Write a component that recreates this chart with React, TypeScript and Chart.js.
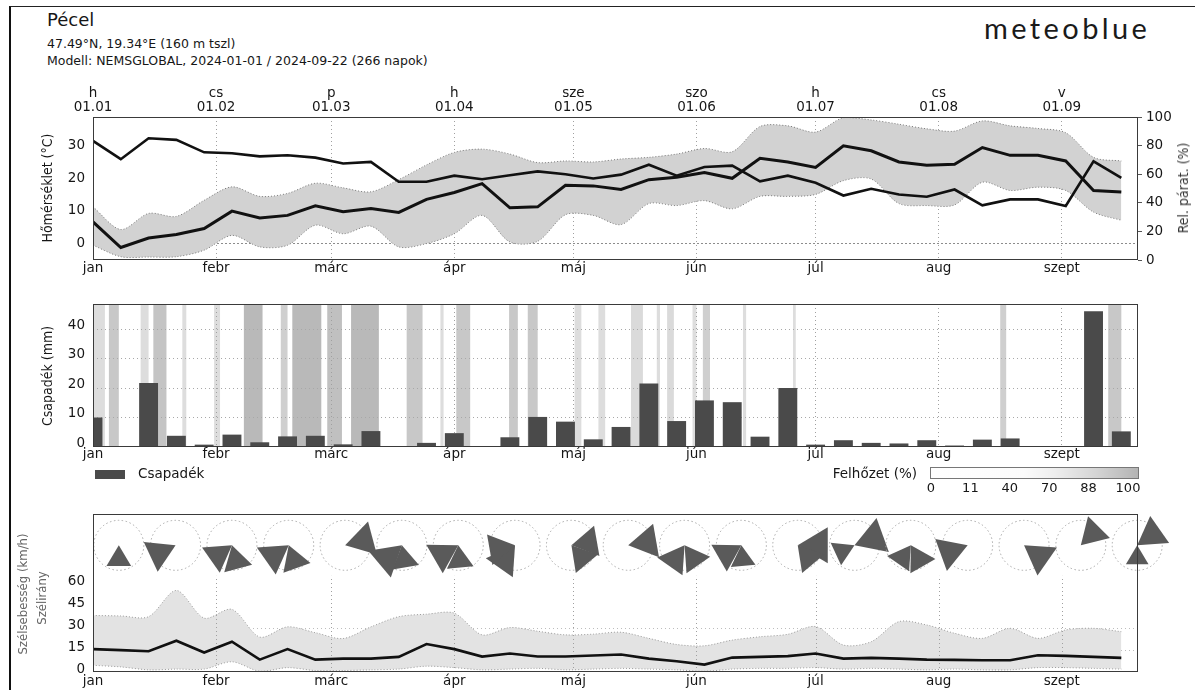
import React, { useEffect, useRef } from "react";
import { Chart, registerables } from "chart.js";

Chart.register(...registerables);

// ---------- layout constants ----------
const CANVAS_W = 1195;
const AREA_LEFT = 93;
const AREA_RIGHT = 1138;
const X_MIN = 0;
const X_MAX = 263.2;

// ---------- data ----------
const weekDays = [0, 7, 14, 21, 28, 35, 42, 49, 56, 63, 70, 77, 84, 91, 98, 105, 112, 119, 126, 133, 140, 147, 154, 161, 168, 175, 182, 189, 196, 203, 210, 217, 224, 231, 238, 245, 252, 259];

const monthDays = [0, 31, 60, 91, 121, 152, 182, 213, 244];
const monthNames = ["jan", "febr", "márc", "ápr", "máj", "jún", "júl", "aug", "szept"];
const dateLabels = ["01.01", "01.02", "01.03", "01.04", "01.05", "01.06", "01.07", "01.08", "01.09"];
const weekdayNames = ["h", "cs", "p", "h", "sze", "szo", "h", "cs", "v"];

const tempTicks = [0, 10, 20, 30];
const humTicks = [0, 20, 40, 60, 80, 100];
const precipTicks = [0, 10, 20, 30, 40];
const windTicks = [0, 15, 30, 45, 60];
const cloudLegendTicks = ["0", "11", "40", "70", "88", "100"];

const tempMean = [6.6, -1.2, 1.7, 2.8, 4.6, 9.9, 7.8, 8.6, 11.5, 9.7, 10.7, 9.5, 13.5, 15.6, 18.3, 10.9, 11.2, 17.8, 17.6, 16.5, 19.5, 20.2, 21.7, 19.9, 26.0, 24.9, 23.2, 29.8, 28.3, 24.9, 23.9, 24.2, 29.3, 26.9, 26.9, 25.2, 16.2, 15.7];
const tempMin = [-0.5, -4.0, -4.1, -4.0, -2.0, 2.5, -1.0, -0.5, 5.6, 3.0, 5.3, -1.0, 0.0, 3.0, 8.6, 0.5, 0.7, 8.8, 8.6, 5.8, 12.2, 11.6, 13.1, 10.6, 14.4, 14.4, 15.0, 19.2, 19.7, 12.2, 11.6, 11.8, 18.7, 16.2, 17.2, 16.2, 9.6, 7.1];
const tempMax = [11.2, 4.3, 9.2, 8.3, 13.2, 17.3, 14.4, 15.3, 18.4, 17.0, 15.8, 19.5, 24.0, 27.8, 28.8, 27.3, 24.7, 25.2, 24.9, 25.8, 26.3, 27.3, 29.0, 28.0, 35.7, 35.9, 34.0, 38.4, 37.7, 36.4, 35.0, 34.3, 37.4, 35.9, 35.1, 33.8, 26.3, 25.2];
const humidity = [83.3, 70.5, 85.1, 84.0, 75.3, 74.6, 72.5, 73.2, 71.6, 67.5, 68.6, 54.7, 54.7, 59, 56.5, 59.3, 62, 60, 57, 59.7, 66.6, 59, 65, 66, 55, 59, 54, 45.1, 49.8, 45.8, 44.2, 49.3, 38.2, 42.4, 42.4, 37.8, 69, 57.4];

const precip = [10, 0, 21.7, 3.8, 0.8, 4.2, 1.6, 3.6, 3.8, 0.9, 5.4, 0.2, 1.4, 4.7, 0, 3.3, 10.2, 8.6, 2.6, 6.8, 21.5, 8.8, 15.8, 15.2, 3.5, 20, 0.8, 2.3, 1.4, 1.2, 2.3, 0.5, 2.5, 2.9, 0.2, 0, 46, 5.3];

const cloudStart = [0, 4, 12, 15.2, 22.5, 30.5, 38, 47.3, 50.2, 59, 65, 79, 87.5, 91.5, 104.8, 109.5, 121.3, 127.3, 135.5, 142, 144.6, 151, 153.6, 163.7, 176.3, 228.5, 255.7];
const cloudEnd = [3, 6.5, 14, 18.5, 23.5, 32, 42.7, 49, 57.5, 62.7, 72, 83, 88.3, 95, 107, 112, 123, 129, 138.5, 142.8, 146.3, 152, 155.4, 164.5, 177, 230, 259];
const cloudCover = [40, 70, 40, 75, 40, 40, 90, 60, 90, 80, 90, 70, 40, 70, 70, 70, 40, 40, 45, 40, 45, 40, 60, 40, 40, 60, 70];

const windMean = [15.7, 15, 14.3, 21.5, 13.4, 20.8, 8.5, 15.7, 8.5, 9.2, 9.2, 10.4, 19.2, 15.7, 10.6, 12.7, 10.6, 10.6, 11.3, 12, 9.2, 7.4, 5.1, 9.9, 10.4, 10.9, 12.7, 9.2, 9.7, 9.2, 8.5, 8.3, 8.1, 8.1, 11.5, 11.1, 10.4, 9.7];
const windMax = [38.8, 38.5, 38, 56, 37, 43, 24, 31, 27, 23, 31, 38, 39.7, 40.4, 25.5, 30.5, 28, 25.5, 26, 27.3, 23.1, 18.9, 18, 21.9, 24.2, 25.9, 31.2, 18.5, 20.8, 34.6, 32.3, 26.6, 23.1, 30, 23.1, 28.9, 30, 27.7];
const windMin = [4.6, 3.5, 1.5, 2, 2, 7, 0.5, 3, 1, 1, 1.5, 2, 4, 3, 1.5, 2, 2.5, 1.5, 2, 2.5, 2, 1.5, 0.5, 2, 2.5, 2.5, 3, 2, 2.5, 2, 1.5, 2, 1.5, 1.5, 3, 3, 2.5, 2];

const roseDay = [6.5, 20.8, 35, 49.3, 63.5, 77.8, 92, 106.3, 120.5, 134.8, 149, 163.3, 177.5, 191.8, 206, 220.3, 234.5, 248.8, 263];
const roseDirA = [180, 245, 165, 160, 75, 170, 175, 215, 80, 80, 145, 175, 90, 70, 150, 250, 125, 45, 55];
const roseShareA = [24, 32, 28, 28, 33, 26, 26, 32, 30, 33, 28, 24, 35, 35, 28, 33, 33, 30, 32];
const roseDirB = [0, 0, 235, 235, 0, 230, 240, 260, 140, 0, 215, 240, 140, 245, 215, 0, 0, 0, 180];
const roseShareB = [0, 0, 30, 32, 0, 34, 32, 30, 28, 0, 30, 30, 28, 24, 26, 0, 0, 0, 22];
const ROSE_LEVEL = 87; // km/h-axis level where the roses sit
const ROSE_RADIUS = 25;
const ROSE_PX_PER_SHARE = 1;

// ---------- helpers ----------
const FAMILY = "DejaVu Sans";
const INK = "#161616";
const TICK_FONT = { family: FAMILY, size: 13.5, lineHeight: 1.0 };

function pts(values: number[]) {
  return values.map((v, i) => ({ x: weekDays[i], y: v }));
}
function fixedTicks(values: number[]) {
  return (s: any) => {
    s.ticks = values.map((v) => ({ value: v }));
  };
}

const framePlugin = {
  id: "frame",
  afterDraw(chart: any) {
    const { ctx, chartArea: a } = chart;
    ctx.save();
    ctx.strokeStyle = "#3a3a3a";
    ctx.lineWidth = 1;
    ctx.setLineDash([]);
    ctx.strokeRect(Math.round(a.left) + 0.5, Math.round(a.top) + 0.5, Math.round(a.width) - 1, Math.round(a.height) - 1);
    ctx.restore();
  },
};

function monthAxis(height: number, padding: number, gridOn: boolean) {
  return {
    type: "linear",
    position: "bottom",
    min: X_MIN,
    max: X_MAX,
    offset: false,
    afterBuildTicks: fixedTicks(monthDays),
    afterFit: (s: any) => {
      s.height = height;
    },
    ticks: {
      autoSkip: false,
      maxRotation: 0,
      minRotation: 0,
      padding,
      color: INK,
      font: TICK_FONT,
      callback: (_v: any, i: number) => monthNames[i],
    },
    grid: { display: gridOn, drawOnChartArea: true, drawTicks: false, tickLength: 0, color: "#a0a0a0", lineWidth: 1, offset: false },
    border: { display: false, dash: [1, 3] },
  };
}

const baseOptions = {
  responsive: false,
  maintainAspectRatio: false,
  animation: false,
  devicePixelRatio: 1,
  events: [],
};
const basePlugins = {
  legend: { display: false },
  tooltip: { enabled: false },
  filler: { drawTime: "beforeDatasetsDraw", propagate: false },
};

// ---------- chart configs ----------
function tempConfig(): any {
  return {
    type: "line",
    data: {
      datasets: [
        { data: pts(tempMean), xAxisID: "x", yAxisID: "yT", borderColor: "#111", borderWidth: 3, pointRadius: 0, tension: 0, fill: false, order: 0 },
        { data: pts(humidity), xAxisID: "x", yAxisID: "yH", borderColor: "#111", borderWidth: 2.6, pointRadius: 0, tension: 0, fill: false, order: 1 },
        { data: pts(tempMin), xAxisID: "x", yAxisID: "yT", borderColor: "#7a7a7a", borderWidth: 1, borderDash: [1, 2], pointRadius: 0, tension: 0.3, fill: false, order: 2 },
        { data: pts(tempMax), xAxisID: "x", yAxisID: "yT", borderColor: "#7a7a7a", borderWidth: 1, borderDash: [1, 2], pointRadius: 0, tension: 0.3, fill: 2, backgroundColor: "#d2d2d2", order: 3 },
      ],
    },
    options: {
      ...baseOptions,
      layout: { padding: 0 },
      plugins: basePlugins,
      scales: {
        x: monthAxis(20, 2, true),
        xTop: {
          type: "linear",
          position: "top",
          min: X_MIN,
          max: X_MAX,
          offset: false,
          afterBuildTicks: fixedTicks(monthDays),
          afterFit: (s: any) => {
            s.height = 42;
          },
          ticks: {
            autoSkip: false,
            maxRotation: 0,
            padding: 3,
            color: INK,
            font: TICK_FONT,
            callback: (_v: any, i: number) => [weekdayNames[i], dateLabels[i]],
          },
          grid: { display: false, drawTicks: false, tickLength: 0 },
          border: { display: false },
        },
        yT: {
          type: "linear",
          position: "left",
          min: -5.0,
          max: 38.6,
          afterBuildTicks: fixedTicks(tempTicks),
          afterFit: (s: any) => {
            s.width = AREA_LEFT;
          },
          ticks: { padding: 8, color: INK, font: TICK_FONT, callback: (v: any) => String(v) },
          grid: { drawTicks: false, tickLength: 0, color: (c: any) => (c.tick && c.tick.value === 0 ? "#8c8c8c" : "rgba(0,0,0,0)") },
          border: { display: false, dash: [2, 2] },
        },
        yH: {
          type: "linear",
          position: "right",
          min: 0,
          max: 100,
          afterBuildTicks: fixedTicks(humTicks),
          afterFit: (s: any) => {
            s.width = CANVAS_W - AREA_RIGHT;
          },
          ticks: { padding: 4, color: INK, font: TICK_FONT, callback: (v: any) => String(v) },
          grid: { drawOnChartArea: false, drawTicks: true, tickLength: 4, color: "#555" },
          border: { display: false },
        },
      },
    },
    plugins: [framePlugin],
  };
}

const cloudPlugin = {
  id: "clouds",
  beforeDraw(chart: any) {
    const { ctx, chartArea: a } = chart;
    const x = chart.scales.x;
    ctx.save();
    ctx.beginPath();
    ctx.rect(a.left, a.top, a.width, a.height);
    ctx.clip();
    cloudStart.forEach((s, i) => {
      const x0 = x.getPixelForValue(s);
      const x1 = x.getPixelForValue(cloudEnd[i]);
      const g = Math.round(250 - cloudCover[i] * 0.72);
      ctx.fillStyle = `rgb(${g},${g},${g})`;
      ctx.fillRect(x0, a.top, x1 - x0, a.height);
    });
    ctx.restore();
  },
};

function precipConfig(): any {
  return {
    type: "bar",
    data: {
      datasets: [
        {
          data: pts(precip),
          xAxisID: "x",
          yAxisID: "y",
          backgroundColor: "#4a4a4a",
          borderWidth: 0,
          barPercentage: 0.68,
          categoryPercentage: 1,
          clip: 0,
        },
      ],
    },
    options: {
      ...baseOptions,
      layout: { padding: { top: 19, right: CANVAS_W - AREA_RIGHT, left: 0, bottom: 0 } },
      plugins: basePlugins,
      scales: {
        x: monthAxis(23, 1, true),
        y: {
          type: "linear",
          position: "left",
          min: 0,
          max: 48.5,
          afterBuildTicks: fixedTicks(precipTicks),
          afterFit: (s: any) => {
            s.width = AREA_LEFT;
          },
          ticks: { padding: 8, labelOffset: -4, color: INK, font: TICK_FONT, callback: (v: any) => String(v) },
          grid: { drawTicks: false, tickLength: 0, color: (c: any) => (c.tick && c.tick.value === 0 ? "rgba(0,0,0,0)" : "#a8a8a8") },
          border: { display: false, dash: [1, 3] },
        },
      },
    },
    plugins: [cloudPlugin, framePlugin],
  };
}

function drawWedge(ctx: any, cx: number, cy: number, dir: number, len: number) {
  const half = 31;
  const a0 = ((dir - half - 90) * Math.PI) / 180;
  const a1 = ((dir + half - 90) * Math.PI) / 180;
  ctx.beginPath();
  ctx.moveTo(cx, cy);
  ctx.lineTo(cx + len * Math.cos(a0), cy + len * Math.sin(a0));
  ctx.lineTo(cx + len * Math.cos(a1), cy + len * Math.sin(a1));
  ctx.closePath();
  ctx.fill();
}

const windDecorPlugin = {
  id: "windDecor",
  beforeDatasetsDraw(chart: any) {
    const { ctx } = chart;
    const x = chart.scales.x;
    const y = chart.scales.y;
    ctx.save();
    ctx.strokeStyle = "#a0a0a0";
    ctx.lineWidth = 1;
    ctx.setLineDash([1, 3]);
    monthDays.forEach((d) => {
      if (d === 0) return;
      const px = Math.round(x.getPixelForValue(d)) + 0.5;
      ctx.beginPath();
      ctx.moveTo(px, y.getPixelForValue(0));
      ctx.lineTo(px, y.getPixelForValue(66));
      ctx.stroke();
    });
    ctx.restore();
  },
  afterDatasetsDraw(chart: any) {
    const { ctx } = chart;
    const x = chart.scales.x;
    const y = chart.scales.y;
    ctx.save();
    roseDay.forEach((d, k) => {
      const cx = x.getPixelForValue(d);
      const cy = y.getPixelForValue(ROSE_LEVEL);
      ctx.setLineDash([1.5, 2.5]);
      ctx.strokeStyle = "#a8a8a8";
      ctx.lineWidth = 1;
      ctx.beginPath();
      ctx.arc(cx, cy, ROSE_RADIUS, 0, Math.PI * 2);
      ctx.stroke();
      ctx.setLineDash([]);
      ctx.fillStyle = "#5a5a5a";
      if (roseShareA[k] > 0) drawWedge(ctx, cx, cy, roseDirA[k], roseShareA[k] * ROSE_PX_PER_SHARE);
      if (roseShareB[k] > 0) drawWedge(ctx, cx, cy, roseDirB[k], roseShareB[k] * ROSE_PX_PER_SHARE);
    });
    ctx.restore();
  },
};

function windConfig(): any {
  return {
    type: "line",
    data: {
      datasets: [
        { data: pts(windMean), xAxisID: "x", yAxisID: "y", borderColor: "#111", borderWidth: 2.6, pointRadius: 0, tension: 0, fill: false, order: 0 },
        { data: pts(windMin), xAxisID: "x", yAxisID: "y", borderColor: "#9a9a9a", borderWidth: 1, borderDash: [1, 2], pointRadius: 0, tension: 0.3, fill: false, order: 1 },
        { data: pts(windMax), xAxisID: "x", yAxisID: "y", borderColor: "#9a9a9a", borderWidth: 1, borderDash: [1, 2], pointRadius: 0, tension: 0.3, fill: 1, backgroundColor: "#e3e3e3", order: 2 },
      ],
    },
    options: {
      ...baseOptions,
      layout: { padding: { top: 24, right: CANVAS_W - AREA_RIGHT, left: 0, bottom: 0 } },
      plugins: basePlugins,
      scales: {
        x: monthAxis(18, 3, false),
        y: {
          type: "linear",
          position: "left",
          min: 0,
          max: 108.5,
          afterBuildTicks: fixedTicks(windTicks),
          afterFit: (s: any) => {
            s.width = AREA_LEFT;
          },
          ticks: { padding: 8, labelOffset: -3, color: INK, font: TICK_FONT, callback: (v: any) => String(v) },
          grid: { drawTicks: false, tickLength: 0, color: (c: any) => (c.tick && (c.tick.value === 15 || c.tick.value === 30) ? "#bdbdbd" : "rgba(0,0,0,0)") },
          border: { display: false, dash: [1, 3] },
        },
      },
    },
    plugins: [windDecorPlugin, framePlugin],
  };
}

// ---------- components ----------
function ChartCanvas(props: { top: number; height: number; make: () => any }) {
  const ref = useRef<HTMLCanvasElement | null>(null);
  useEffect(() => {
    if (!ref.current) return;
    const chart = new Chart(ref.current, props.make());
    return () => chart.destroy();
  }, []);
  return (
    <canvas
      ref={ref}
      width={CANVAS_W}
      height={props.height}
      style={{ position: "absolute", left: 0, top: props.top, width: CANVAS_W, height: props.height }}
    />
  );
}

function Rot(props: { x: number; y: number; text: string; size: number; color?: string }) {
  return (
    <div
      style={{
        position: "absolute",
        left: props.x,
        top: props.y,
        transform: "translate(-50%,-50%) rotate(-90deg)",
        whiteSpace: "nowrap",
        fontFamily: "'DejaVu Sans Condensed','DejaVu Sans',sans-serif",
        fontSize: props.size,
        color: props.color || INK,
        lineHeight: 1,
      }}
    >
      {props.text}
    </div>
  );
}

const txt = (extra: any) => ({
  position: "absolute" as const,
  fontFamily: "'DejaVu Sans',sans-serif",
  color: INK,
  whiteSpace: "nowrap" as const,
  lineHeight: 1,
  ...extra,
});

export default function App() {
  return (
    <div style={{ position: "absolute", left: 0, top: 0, width: CANVAS_W, height: 690, background: "#fff", overflow: "hidden" }}>
      <div style={{ position: "absolute", left: 9, top: 6, width: 1200, height: 700, borderLeft: "2.5px solid #111", borderTop: "1.5px solid #222" }} />
      <div style={txt({ left: 47, top: 11, fontSize: 18 })}>Pécel</div>
      <div style={txt({ left: 47, top: 38, fontSize: 12.5 })}>47.49°N, 19.34°E (160 m tszl)</div>
      <div style={txt({ left: 47, top: 55, fontSize: 12.5 })}>Modell: NEMSGLOBAL, 2024-01-01 / 2024-09-22 (266 napok)</div>
      <div style={txt({ left: 984, top: 13, fontSize: 29, fontFamily: "Lato, sans-serif", letterSpacing: 3.4, color: "#1a1a1a" })}>meteoblue</div>

      <ChartCanvas top={75} height={205} make={tempConfig} />
      <ChartCanvas top={285} height={185} make={precipConfig} />
      <ChartCanvas top={490} height={200} make={windConfig} />

      <Rot x={47} y={188} text="Hőmérséklet (°C)" size={14} />
      <Rot x={1183} y={188} text="Rel. párat. (%)" size={14} color="#333" />
      <Rot x={47} y={376} text="Csapadék (mm)" size={14} />
      <Rot x={22} y={594} text="Szélsebesség (km/h)" size={13} color="#666" />
      <Rot x={41} y={598} text="Szélirány" size={13} color="#666" />

      <div style={{ position: "absolute", left: 95, top: 470, width: 30, height: 9, background: "#4a4a4a" }} />
      <div style={txt({ left: 138, top: 467, fontSize: 13.5 })}>Csapadék</div>
      <div style={txt({ left: 760, width: 157, top: 467, fontSize: 13.5, textAlign: "right" })}>Felhőzet (%)</div>
      <div
        style={{
          position: "absolute",
          left: 930,
          top: 467,
          width: 207,
          height: 10,
          border: "1px solid #777",
          background: "linear-gradient(to right, #ffffff 0%, #fbfbfb 45%, #eeeeee 60%, #d4d4d4 80%, #b4b4b4 100%)",
        }}
      />
      {cloudLegendTicks.map((t, i) => (
        <div key={t} style={txt({ left: 931 + i * 39.4, top: 481, fontSize: 13, transform: "translateX(-50%)" })}>
          {t}
        </div>
      ))}
    </div>
  );
}
